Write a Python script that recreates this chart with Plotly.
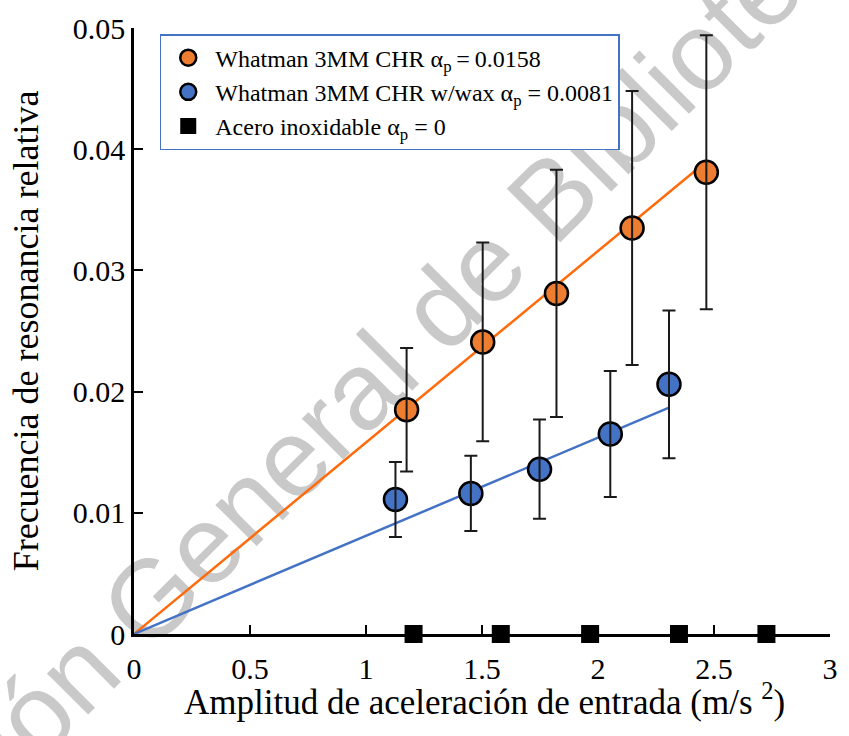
import plotly.graph_objects as go

# Whatman 3MM CHR paper
paper_x = [1.175, 1.503, 1.821, 2.147, 2.467]
paper_y = [0.0185, 0.0241, 0.0281, 0.0335, 0.0381]
paper_err = [0.0051, 0.0082, 0.0102, 0.0113, 0.0113]
paper_alpha = 0.0158

# Whatman 3MM CHR with wax
wax_x = [1.127, 1.452, 1.748, 2.053, 2.306]
wax_y = [0.0111, 0.0116, 0.0136, 0.0165, 0.0206]
wax_err = [0.0031, 0.0031, 0.0041, 0.0052, 0.0061]
wax_alpha = 0.0081

# Stainless steel reference
steel_x = [1.205, 1.581, 1.966, 2.349, 2.726]
steel_y = [0, 0, 0, 0, 0]

x_ticks = [0, 0.5, 1, 1.5, 2, 2.5, 3]
x_tick_text = ["0", "0.5", "1", "1.5", "2", "2.5", "3"]
y_ticks = [0, 0.01, 0.02, 0.03, 0.04, 0.05]
y_tick_text = ["0", "0.01", "0.02", "0.03", "0.04", "0.05"]

labels = [
    "Whatman 3MM CHR α<sub>p</sub>\u2009=\u20090.0158",
    "Whatman 3MM CHR w/wax α<sub>p</sub> = 0.0081",
    "Acero inoxidable α<sub>p</sub> = 0",
]
x_title = "Amplitud de aceleración de entrada (m/s <sup>2</sup>)"
y_title = "Frecuencia de resonancia relativa"

SERIF = "Liberation Serif"
ORANGE_FILL = "#ED7D31"
ORANGE_LINE = "#FF6A0D"
BLUE = "#4472C4"
ERR = "#1a1a1a"

fig = go.Figure()

# linear fits through the origin
for xs, a, col in [(paper_x, paper_alpha, ORANGE_LINE), (wax_x, wax_alpha, BLUE)]:
    xe = max(xs)
    fig.add_trace(go.Scatter(
        x=[0, xe], y=[0, a * xe], mode="lines",
        line=dict(color=col, width=2.5), showlegend=False, hoverinfo="skip",
    ))

# measured points
for xs, ys, col, name in [(paper_x, paper_y, ORANGE_FILL, labels[0]),
                          (wax_x, wax_y, BLUE, labels[1])]:
    fig.add_trace(go.Scatter(
        x=xs, y=ys, mode="markers", name=name,
        marker=dict(size=23, color=col, line=dict(color="black", width=2.5)),
        cliponaxis=False,
    ))

fig.add_trace(go.Scatter(
    x=steel_x, y=steel_y, mode="markers", name=labels[2],
    marker=dict(size=18, color="black", symbol="square"),
    cliponaxis=False,
))

# error bars drawn over the markers
for xs, ys, es in [(paper_x, paper_y, paper_err), (wax_x, wax_y, wax_err)]:
    fig.add_trace(go.Scatter(
        x=xs, y=ys, mode="markers", marker=dict(size=1, opacity=0),
        error_y=dict(type="data", array=es, visible=True, color=ERR,
                     thickness=2, width=6.5),
        showlegend=False, hoverinfo="skip", cliponaxis=False,
    ))

# watermark, placed under the plot layer
fig.add_shape(
    type="rect", xref="paper", yref="paper",
    x0=0.274, x1=0.294, y0=0.372, y1=0.392,
    line=dict(width=0), fillcolor="rgba(0,0,0,0)", layer="below",
    label=dict(text="Dirección General de Bibliotecas", textangle=-45,
               textposition="middle center",
               font=dict(family="Liberation Sans", size=110, color="#c9c9c9")),
)

# x-axis title
fig.add_annotation(
    text=x_title, xref="paper", yref="paper", x=0.503, y=-0.108,
    xanchor="center", yanchor="middle", showarrow=False,
    font=dict(family=SERIF, size=35, color="black"),
)

fig.update_layout(
    width=849, height=736,
    margin=dict(l=134, r=11, t=25, b=102),
    paper_bgcolor="white", plot_bgcolor="rgba(0,0,0,0)",
    font=dict(family=SERIF, color="black"),
    legend=dict(
        x=0.037, y=0.99, xanchor="left", yanchor="top",
        bgcolor="white", bordercolor=BLUE, borderwidth=1.5,
        font=dict(family=SERIF, size=24, color="black"),
        itemwidth=44,
    ),
    xaxis=dict(
        range=[0, 3], tickvals=x_ticks, ticktext=x_tick_text,
        showline=True, linecolor="black", linewidth=2.5,
        ticks="inside", ticklen=9, tickwidth=2, tickcolor="black",
        showgrid=False, zeroline=False,
        tickfont=dict(family=SERIF, size=30, color="black"),
        ticklabelstandoff=6,
    ),
    yaxis=dict(
        range=[0, 0.05], tickvals=y_ticks, ticktext=y_tick_text,
        showline=True, linecolor="black", linewidth=2.5,
        ticks="inside", ticklen=9, tickwidth=2, tickcolor="black",
        showgrid=False, zeroline=False,
        tickfont=dict(family=SERIF, size=30, color="black"),
        ticklabelstandoff=0,
        title=dict(text=y_title,
                   font=dict(family=SERIF, size=36, color="black"), standoff=24),
    ),
)

fig.write_html("out.html")
